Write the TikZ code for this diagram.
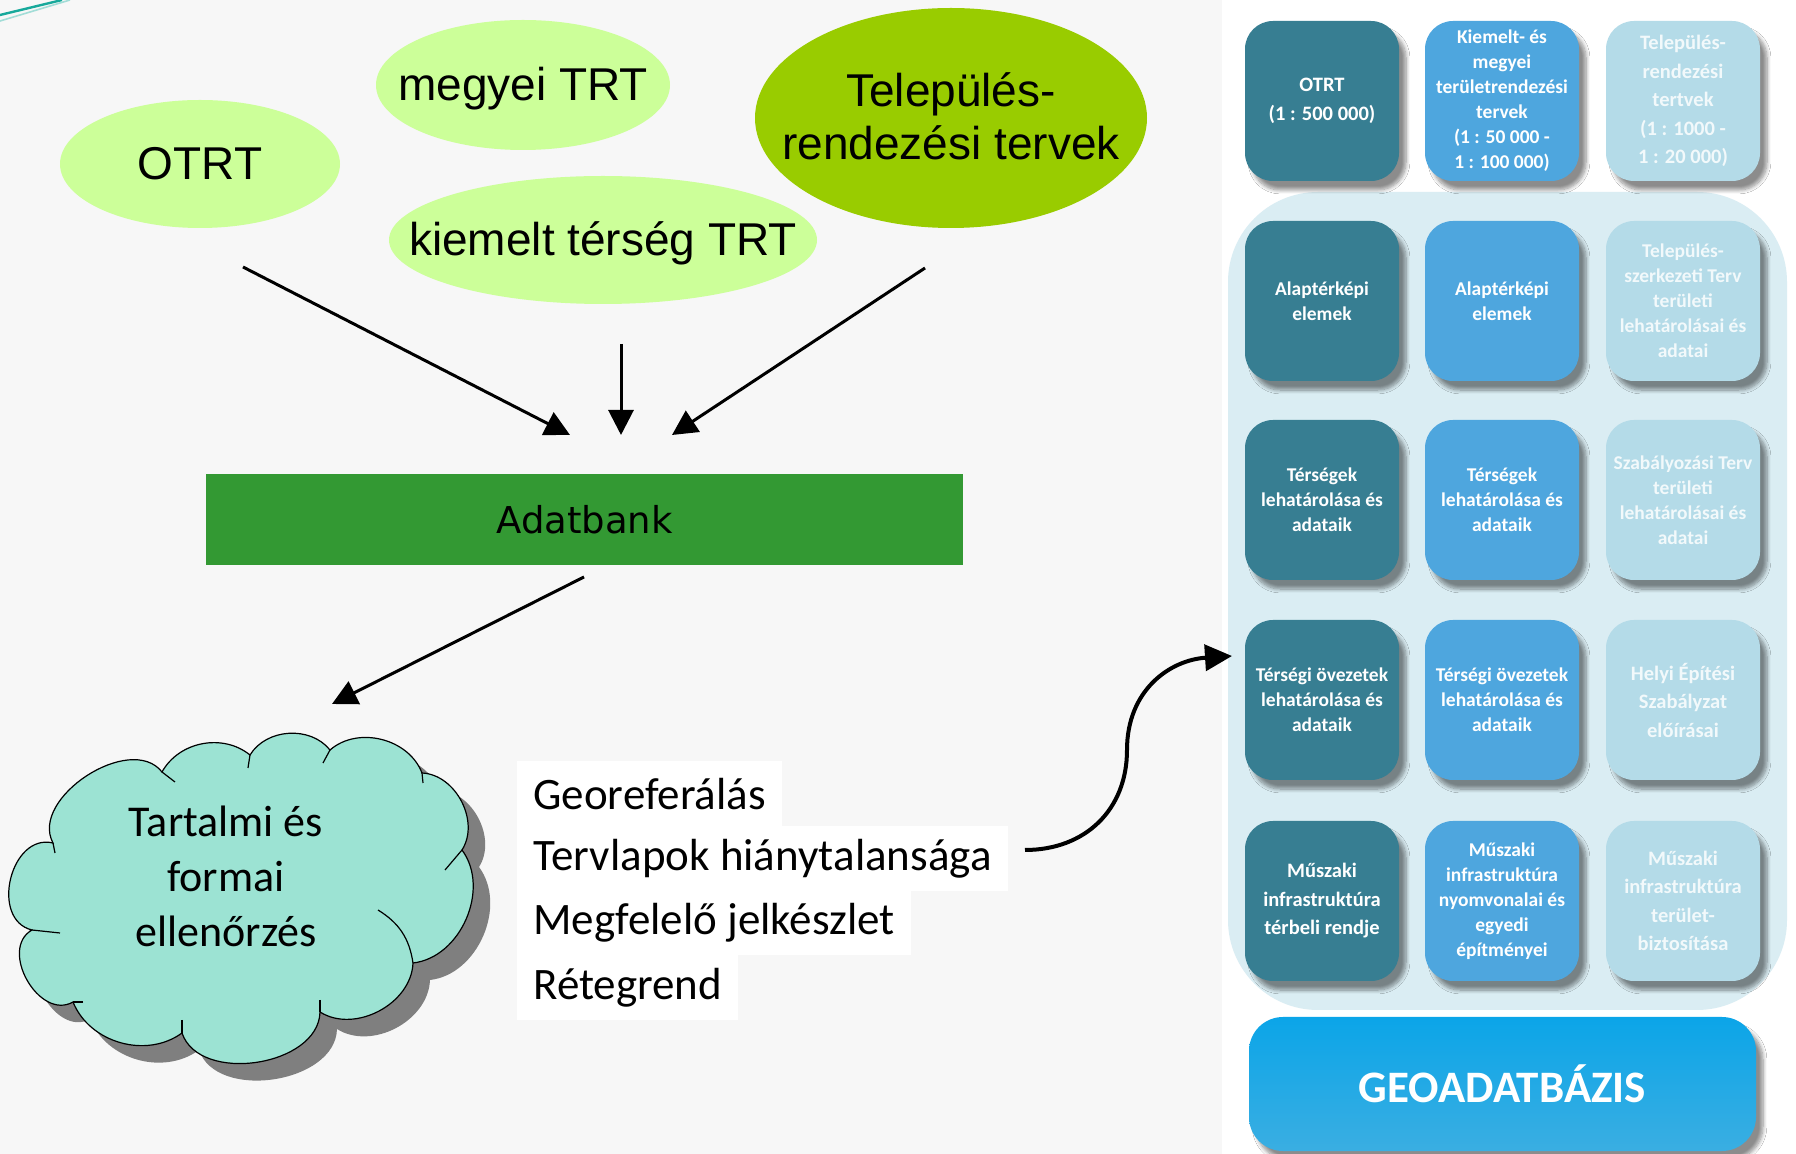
\documentclass[tikz,border=0pt]{standalone}
\usepackage{fontspec}
\setmainfont{Carlito}
\newfontfamily\arialf{Liberation Sans}
\newfontfamily\verdf{DejaVu Sans}
\usetikzlibrary{shapes.geometric,arrows.meta,shadows.blur,calc}
\definecolor{bgc}{HTML}{F7F7F7}
\definecolor{lgreen}{HTML}{CCFF99}
\definecolor{dgreen}{HTML}{99CC00}
\definecolor{bank}{HTML}{339933}
\definecolor{cloudc}{HTML}{9CE3D3}
\definecolor{cshadow}{HTML}{7F7F7F}
\definecolor{tone}{HTML}{377E92}
\definecolor{ttwo}{HTML}{4EA6DE}
\definecolor{tthree}{HTML}{B4DBE8}
\definecolor{tthreetxt}{HTML}{F2F9FB}
\definecolor{halo}{HTML}{DAEDF3}
\definecolor{geoa}{HTML}{0BA5E8}
\definecolor{geob}{HTML}{3AAEE2}
\definecolor{tealline}{HTML}{17A99B}
\begin{document}
\begin{tikzpicture}[x=0.5pt,y=-0.5pt,
  ell/.style={ellipse, inner sep=0pt, font=\arialf\fontsize{23}{26.5}\selectfont},
  arr/.style={line width=1.5pt, -{Triangle[length=12.5pt,width=12.5pt]}},
  tile/.style={rounded corners=14pt, minimum width=77pt, minimum height=80pt, inner sep=2pt, align=center, text=white,
    font=\bfseries\fontsize{9.75}{12.5}\selectfont,
    blur shadow={shadow xshift=3.5pt, shadow yshift=-4.5pt, shadow blur steps=8, shadow opacity=45}},
  loose/.style={font=\bfseries\fontsize{10.25}{14.25}\selectfont},
  cone/.style={tile, fill=tone},
  ctwo/.style={tile, fill=ttwo},
  cthree/.style={tile, fill=tthree, text=tthreetxt},
  item/.style={fill=white, anchor=west, inner xsep=8pt, inner ysep=0pt, minimum height=32.5pt, font=\fontsize{22.5}{27}\selectfont},
]
\useasboundingbox (0,0) rectangle (1796,1154);
\fill[bgc] (0,0) rectangle (1796,1154);
\fill[white] (1222,0) rectangle (1796,1154);
\draw[tealline, line width=1.2pt] (0,15) -- (62,0);
\draw[tealline!40, line width=0.8pt] (0,21) -- (70,0);

% ellipses
\node[ell, fill=lgreen, minimum width=140pt, minimum height=64pt] (otrt) at (200,164) {\makebox[0pt]{OTRT}};
\node[ell, fill=lgreen, minimum width=147pt, minimum height=65pt] (megyei) at (523,85) {\makebox[0pt]{\raisebox{-2pt}[\height][\depth]{megyei TRT}}};
\node[ell, fill=lgreen, minimum width=214pt, minimum height=64pt] (kiemelt) at (603,240) {\makebox[0pt]{\raisebox{-1.5pt}[\height][\depth]{kiemelt térség TRT}}};
\node[ell, fill=dgreen, minimum width=196pt, minimum height=110pt] (telep) at (951,118) {\makebox[0pt]{\raisebox{-2pt}[\height][\depth]{\begin{tabular}{@{}c@{}}Település-\\rendezési tervek\end{tabular}}}};

% Adatbank
\node[fill=bank, minimum width=378.5pt, minimum height=45.5pt, inner sep=0pt, font=\verdf\fontsize{18.5}{22}\selectfont] (bank) at (584.5,519.5) {Adatbank};

\coordinate (a1s) at (243,267); \coordinate (a1e) at (570,435);
\coordinate (a2s) at (621,344); \coordinate (a2e) at (621,435);
\coordinate (a3s) at (925,268); \coordinate (a3e) at (672,435);
\coordinate (a4s) at (584,577); \coordinate (a4e) at (332,704);
\draw[arr] (a1s) -- (a1e);
\draw[arr] (a2s) -- (a2e);
\draw[arr] (a3s) -- (a3e);
\draw[arr] (a4s) -- (a4e);

% cloud shadow
\begin{scope}[xshift=8.5pt, yshift=-8.5pt]
\fill[cshadow] (53,843) to[bend left=85] (162,772) to[bend left=50] (250,755) to[bend left=55] (330,750)
  to[bend left=55] (422,773) to[bend left=60] (462,850) to[bend left=60] (413,963) to[bend left=60] (320,1012)
  to[bend left=80] (182,1033) to[bend left=52] (73,1002) to[bend left=90, looseness=1.2] (32,930)
  to[bend left=90, looseness=1.25] (53,843) -- cycle;
\end{scope}
\draw[line width=0.6pt, fill=cloudc] (53,843) to[bend left=85] (162,772) to[bend left=50] (250,755) to[bend left=55] (330,750)
  to[bend left=55] (422,773) to[bend left=60] (462,850) to[bend left=60] (413,963) to[bend left=60] (320,1012)
  to[bend left=80] (182,1033) to[bend left=52] (73,1002) to[bend left=90, looseness=1.2] (32,930)
  to[bend left=90, looseness=1.25] (53,843) -- cycle;
\draw[line width=0.6pt] (162,772) -- (175,782);
\draw[line width=0.6pt] (250,755) -- (248,768);
\draw[line width=0.6pt] (330,750) -- (323,763);
\draw[line width=0.6pt] (422,773) -- (423,783);
\draw[line width=0.6pt] (462,850) -- (445,870);
\draw[line width=0.6pt] (378,910) to[bend left=25] (413,963);
\draw[line width=0.6pt] (320,1000) -- (320,1012);
\draw[line width=0.6pt] (182,1020) -- (182,1033);
\draw[line width=0.6pt] (83,1002) -- (73,1002);
\draw[line width=0.6pt] (32,930) -- (60,933);
\draw[line width=0.6pt] (53,843) -- (55,853);
\node[align=center, font=\fontsize{22}{27.5}\selectfont] (ctext) at (226,876) {Tartalmi és\\formai\\ellenőrzés};

% list
\node[item] (l1) at (517,794) {Georeferálás};
\node[item] (l2) at (517,859) {Tervlapok hiánytalansága};
\node[item] (l3) at (517,923) {Megfelelő jelkészlet};
\node[item] (l4) at (517,988) {Rétegrend};

% right panel
\fill[halo] (1228,192) [rounded corners=45pt] rectangle (1787,1010);

\node[cone, loose] (t11) at (1322,101) {OTRT\\(1 : 500 000)};
\node[ctwo] (t12) at (1502,101) {Kiemelt- és\\megyei\\területrendezési\\tervek\\(1 : 50 000 -\\1 : 100 000)};
\node[cthree, loose] (t13) at (1683,101) {Település-\\rendezési\\tertvek\\(1 : 1000 -\\1 : 20 000)};

\node[cone] (t21) at (1322,301) {Alaptérképi\\elemek};
\node[ctwo] (t22) at (1502,301) {Alaptérképi\\elemek};
\node[cthree] (t23) at (1683,301) {Település-\\szerkezeti Terv\\területi\\lehatárolásai és\\adatai};

\node[cone] (t31) at (1322,500) {Térségek\\lehatárolása és\\adataik};
\node[ctwo] (t32) at (1502,500) {Térségek\\lehatárolása és\\adataik};
\node[cthree] (t33) at (1683,500) {Szabályozási Terv\\területi\\lehatárolásai és\\adatai};

\node[cone] (t41) at (1322,700) {Térségi övezetek\\lehatárolása és\\adataik};
\node[ctwo] (t42) at (1502,700) {Térségi övezetek\\lehatárolása és\\adataik};
\node[cthree, loose] (t43) at (1683,700) {Helyi Építési\\Szabályzat\\előírásai};

\node[cone, loose] (t51) at (1322,901) {Műszaki\\infrastruktúra\\térbeli rendje};
\node[ctwo] (t52) at (1502,901) {Műszaki\\infrastruktúra\\nyomvonalai és\\egyedi\\építményei};
\node[cthree, loose] (t53) at (1683,901) {Műszaki\\infrastruktúra\\terület-\\biztosítása};

\node[rounded corners=17pt, minimum width=253.5pt, minimum height=67pt, top color=geoa, bottom color=geob, text=white,
  font=\bfseries\fontsize{22.5}{27}\selectfont,
  blur shadow={shadow xshift=3.5pt, shadow yshift=-4.5pt, shadow blur steps=8, shadow opacity=45}] (geo) at (1502.5,1084) {GEOADATBÁZIS};

% curved arrow
\coordinate (cs) at (1025,850);
\coordinate (ce) at (1232,656);
\draw[line width=2pt, -{Triangle[length=13.5pt,width=13pt]}] (cs) .. controls (1085,850) and (1127,810) .. (1127,750) .. controls (1127,690) and (1170,660) .. (ce);
\end{tikzpicture}
\end{document}
